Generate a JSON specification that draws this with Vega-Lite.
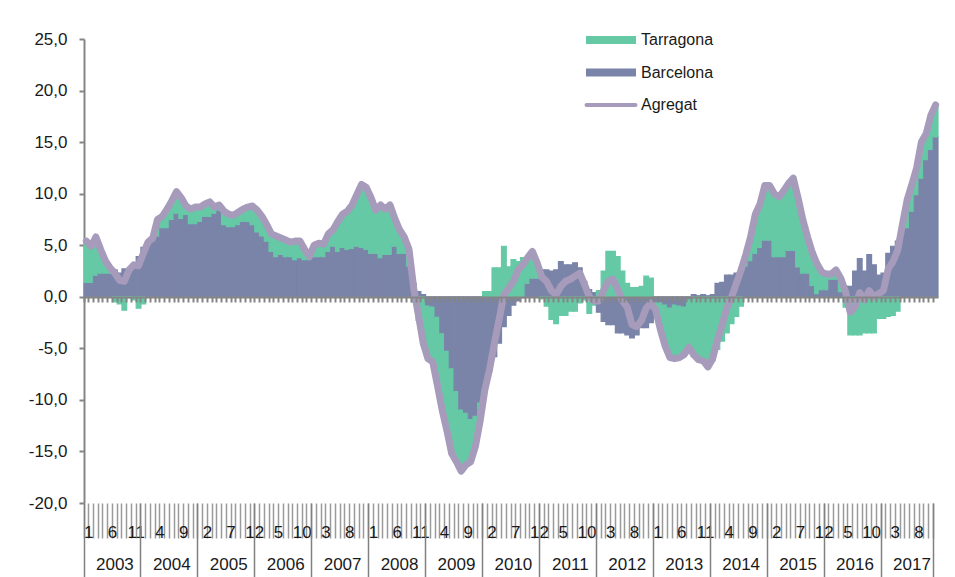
{
"$schema": "https://vega.github.io/schema/vega-lite/v6.json",
"width": 854,
"height": 464,
"autosize": {"type": "none"},
"padding": {"left": 84, "top": 39, "right": 17, "bottom": 74},
"background": "white",
"config": {"view": {"stroke": null}, "font": "Liberation Sans"},
"data": {"values": [
{"m":"2003-01","Barcelona":1.4,"Tarragona":4.0,"Agregat":5.4},
{"m":"2003-02","Barcelona":1.4,"Tarragona":3.5,"Agregat":4.9},
{"m":"2003-03","Barcelona":2.1,"Tarragona":3.7,"Agregat":5.8},
{"m":"2003-04","Barcelona":2.3,"Tarragona":2.3,"Agregat":4.6},
{"m":"2003-05","Barcelona":2.3,"Tarragona":1.2,"Agregat":3.5},
{"m":"2003-06","Barcelona":2.3,"Tarragona":0.5,"Agregat":2.8},
{"m":"2003-07","Barcelona":2.6,"Tarragona":-0.5,"Agregat":2.3},
{"m":"2003-08","Barcelona":2.3,"Tarragona":-0.7,"Agregat":1.6},
{"m":"2003-09","Barcelona":2.7,"Tarragona":-1.3,"Agregat":1.5},
{"m":"2003-10","Barcelona":2.7,"Tarragona":-0.1,"Agregat":2.6},
{"m":"2003-11","Barcelona":3.2,"Tarragona":-0.3,"Agregat":3.1},
{"m":"2003-12","Barcelona":3.9,"Tarragona":-1.1,"Agregat":3.0},
{"m":"2004-01","Barcelona":4.8,"Tarragona":-0.7,"Agregat":4.2},
{"m":"2004-02","Barcelona":5.0,"Tarragona":0.3,"Agregat":5.3},
{"m":"2004-03","Barcelona":5.4,"Tarragona":0.3,"Agregat":5.7},
{"m":"2004-04","Barcelona":5.9,"Tarragona":1.6,"Agregat":7.5},
{"m":"2004-05","Barcelona":6.7,"Tarragona":1.1,"Agregat":7.8},
{"m":"2004-06","Barcelona":6.7,"Tarragona":1.8,"Agregat":8.5},
{"m":"2004-07","Barcelona":7.5,"Tarragona":1.8,"Agregat":9.3},
{"m":"2004-08","Barcelona":8.1,"Tarragona":2.1,"Agregat":10.2},
{"m":"2004-09","Barcelona":7.6,"Tarragona":2.0,"Agregat":9.6},
{"m":"2004-10","Barcelona":8.0,"Tarragona":0.8,"Agregat":8.8},
{"m":"2004-11","Barcelona":7.1,"Tarragona":1.4,"Agregat":8.5},
{"m":"2004-12","Barcelona":7.1,"Tarragona":1.6,"Agregat":8.7},
{"m":"2005-01","Barcelona":7.3,"Tarragona":1.4,"Agregat":8.7},
{"m":"2005-02","Barcelona":7.8,"Tarragona":1.2,"Agregat":9.0},
{"m":"2005-03","Barcelona":7.8,"Tarragona":1.4,"Agregat":9.2},
{"m":"2005-04","Barcelona":8.1,"Tarragona":0.6,"Agregat":8.7},
{"m":"2005-05","Barcelona":8.4,"Tarragona":0.5,"Agregat":8.9},
{"m":"2005-06","Barcelona":7.0,"Tarragona":1.3,"Agregat":8.3},
{"m":"2005-07","Barcelona":6.8,"Tarragona":1.2,"Agregat":8.0},
{"m":"2005-08","Barcelona":6.8,"Tarragona":1.1,"Agregat":7.9},
{"m":"2005-09","Barcelona":7.0,"Tarragona":1.2,"Agregat":8.2},
{"m":"2005-10","Barcelona":7.3,"Tarragona":1.2,"Agregat":8.5},
{"m":"2005-11","Barcelona":7.3,"Tarragona":1.4,"Agregat":8.7},
{"m":"2005-12","Barcelona":7.0,"Tarragona":1.8,"Agregat":8.8},
{"m":"2006-01","Barcelona":6.3,"Tarragona":2.1,"Agregat":8.4},
{"m":"2006-02","Barcelona":5.9,"Tarragona":1.9,"Agregat":7.8},
{"m":"2006-03","Barcelona":5.4,"Tarragona":1.6,"Agregat":7.0},
{"m":"2006-04","Barcelona":4.4,"Tarragona":1.7,"Agregat":6.1},
{"m":"2006-05","Barcelona":3.9,"Tarragona":2.0,"Agregat":5.9},
{"m":"2006-06","Barcelona":4.1,"Tarragona":1.6,"Agregat":5.7},
{"m":"2006-07","Barcelona":3.9,"Tarragona":1.6,"Agregat":5.5},
{"m":"2006-08","Barcelona":3.9,"Tarragona":1.4,"Agregat":5.3},
{"m":"2006-09","Barcelona":3.6,"Tarragona":1.8,"Agregat":5.4},
{"m":"2006-10","Barcelona":3.8,"Tarragona":1.6,"Agregat":5.4},
{"m":"2006-11","Barcelona":3.6,"Tarragona":1.0,"Agregat":4.6},
{"m":"2006-12","Barcelona":3.6,"Tarragona":0.3,"Agregat":3.9},
{"m":"2007-01","Barcelona":3.9,"Tarragona":1.1,"Agregat":5.0},
{"m":"2007-02","Barcelona":3.9,"Tarragona":1.3,"Agregat":5.2},
{"m":"2007-03","Barcelona":3.9,"Tarragona":1.2,"Agregat":5.1},
{"m":"2007-04","Barcelona":4.4,"Tarragona":1.7,"Agregat":6.1},
{"m":"2007-05","Barcelona":4.9,"Tarragona":1.6,"Agregat":6.5},
{"m":"2007-06","Barcelona":4.4,"Tarragona":2.9,"Agregat":7.3},
{"m":"2007-07","Barcelona":4.8,"Tarragona":3.2,"Agregat":8.0},
{"m":"2007-08","Barcelona":4.6,"Tarragona":3.7,"Agregat":8.3},
{"m":"2007-09","Barcelona":4.7,"Tarragona":4.2,"Agregat":8.9},
{"m":"2007-10","Barcelona":4.9,"Tarragona":5.0,"Agregat":9.9},
{"m":"2007-11","Barcelona":4.8,"Tarragona":6.1,"Agregat":10.9},
{"m":"2007-12","Barcelona":4.6,"Tarragona":6.0,"Agregat":10.6},
{"m":"2008-01","Barcelona":4.2,"Tarragona":5.4,"Agregat":9.6},
{"m":"2008-02","Barcelona":4.2,"Tarragona":4.2,"Agregat":8.4},
{"m":"2008-03","Barcelona":3.8,"Tarragona":5.1,"Agregat":8.9},
{"m":"2008-04","Barcelona":4.1,"Tarragona":4.4,"Agregat":8.5},
{"m":"2008-05","Barcelona":4.1,"Tarragona":4.8,"Agregat":8.9},
{"m":"2008-06","Barcelona":4.9,"Tarragona":2.7,"Agregat":7.6},
{"m":"2008-07","Barcelona":4.2,"Tarragona":2.3,"Agregat":6.5},
{"m":"2008-08","Barcelona":4.2,"Tarragona":1.6,"Agregat":5.8},
{"m":"2008-09","Barcelona":3.0,"Tarragona":1.6,"Agregat":4.6},
{"m":"2008-10","Barcelona":1.3,"Tarragona":-0.5,"Agregat":0.8},
{"m":"2008-11","Barcelona":0.5,"Tarragona":-2.3,"Agregat":-1.8},
{"m":"2008-12","Barcelona":0.2,"Tarragona":-4.7,"Agregat":-4.5},
{"m":"2009-01","Barcelona":-0.9,"Tarragona":-5.1,"Agregat":-6.0},
{"m":"2009-02","Barcelona":-1.0,"Tarragona":-5.3,"Agregat":-6.3},
{"m":"2009-03","Barcelona":-2.0,"Tarragona":-6.6,"Agregat":-8.6},
{"m":"2009-04","Barcelona":-3.6,"Tarragona":-7.4,"Agregat":-11.0},
{"m":"2009-05","Barcelona":-5.3,"Tarragona":-7.7,"Agregat":-13.0},
{"m":"2009-06","Barcelona":-7.0,"Tarragona":-8.2,"Agregat":-15.2},
{"m":"2009-07","Barcelona":-9.2,"Tarragona":-6.8,"Agregat":-16.0},
{"m":"2009-08","Barcelona":-11.0,"Tarragona":-5.9,"Agregat":-16.9},
{"m":"2009-09","Barcelona":-11.3,"Tarragona":-5.0,"Agregat":-16.3},
{"m":"2009-10","Barcelona":-11.9,"Tarragona":-4.1,"Agregat":-16.0},
{"m":"2009-11","Barcelona":-11.6,"Tarragona":-2.9,"Agregat":-14.5},
{"m":"2009-12","Barcelona":-10.3,"Tarragona":-1.7,"Agregat":-12.0},
{"m":"2010-01","Barcelona":-8.7,"Tarragona":0.5,"Agregat":-9.0},
{"m":"2010-02","Barcelona":-7.2,"Tarragona":0.5,"Agregat":-7.0},
{"m":"2010-03","Barcelona":-5.8,"Tarragona":2.8,"Agregat":-4.5},
{"m":"2010-04","Barcelona":-4.5,"Tarragona":2.8,"Agregat":-2.2},
{"m":"2010-05","Barcelona":-2.9,"Tarragona":4.9,"Agregat":0.2},
{"m":"2010-06","Barcelona":-1.8,"Tarragona":2.9,"Agregat":0.8},
{"m":"2010-07","Barcelona":-0.8,"Tarragona":3.6,"Agregat":1.5},
{"m":"2010-08","Barcelona":-0.4,"Tarragona":3.4,"Agregat":2.6},
{"m":"2010-09","Barcelona":-0.1,"Tarragona":3.8,"Agregat":3.1},
{"m":"2010-10","Barcelona":1.3,"Tarragona":2.4,"Agregat":3.8},
{"m":"2010-11","Barcelona":1.8,"Tarragona":2.5,"Agregat":4.4},
{"m":"2010-12","Barcelona":1.8,"Tarragona":1.5,"Agregat":3.3},
{"m":"2011-01","Barcelona":2.6,"Tarragona":-0.2,"Agregat":1.9},
{"m":"2011-02","Barcelona":2.6,"Tarragona":-0.9,"Agregat":1.5},
{"m":"2011-03","Barcelona":2.5,"Tarragona":-2.2,"Agregat":0.6},
{"m":"2011-04","Barcelona":2.6,"Tarragona":-2.6,"Agregat":0.2},
{"m":"2011-05","Barcelona":3.4,"Tarragona":-1.8,"Agregat":1.0},
{"m":"2011-06","Barcelona":3.1,"Tarragona":-1.8,"Agregat":1.5},
{"m":"2011-07","Barcelona":3.1,"Tarragona":-1.4,"Agregat":1.7},
{"m":"2011-08","Barcelona":3.3,"Tarragona":-1.4,"Agregat":2.0},
{"m":"2011-09","Barcelona":2.8,"Tarragona":-0.6,"Agregat":2.3},
{"m":"2011-10","Barcelona":1.5,"Tarragona":-0.3,"Agregat":1.2},
{"m":"2011-11","Barcelona":0.7,"Tarragona":-1.6,"Agregat":0.0},
{"m":"2011-12","Barcelona":0.4,"Tarragona":-0.8,"Agregat":-0.4},
{"m":"2012-01","Barcelona":-1.5,"Tarragona":0.6,"Agregat":-0.4},
{"m":"2012-02","Barcelona":-2.4,"Tarragona":2.5,"Agregat":0.6},
{"m":"2012-03","Barcelona":-2.7,"Tarragona":4.4,"Agregat":1.5},
{"m":"2012-04","Barcelona":-2.7,"Tarragona":4.4,"Agregat":1.7},
{"m":"2012-05","Barcelona":-3.5,"Tarragona":3.9,"Agregat":0.7},
{"m":"2012-06","Barcelona":-3.5,"Tarragona":2.5,"Agregat":-0.4},
{"m":"2012-07","Barcelona":-3.7,"Tarragona":1.3,"Agregat":-1.0},
{"m":"2012-08","Barcelona":-4.0,"Tarragona":0.9,"Agregat":-2.7},
{"m":"2012-09","Barcelona":-3.7,"Tarragona":0.9,"Agregat":-2.9},
{"m":"2012-10","Barcelona":-3.0,"Tarragona":1.0,"Agregat":-2.3},
{"m":"2012-11","Barcelona":-3.0,"Tarragona":2.0,"Agregat":-1.1},
{"m":"2012-12","Barcelona":-2.5,"Tarragona":1.8,"Agregat":-0.6},
{"m":"2013-01","Barcelona":-0.6,"Tarragona":-0.7,"Agregat":-1.3},
{"m":"2013-02","Barcelona":-0.6,"Tarragona":-2.6,"Agregat":-3.2},
{"m":"2013-03","Barcelona":-0.8,"Tarragona":-4.0,"Agregat":-4.8},
{"m":"2013-04","Barcelona":-1.1,"Tarragona":-4.8,"Agregat":-5.9},
{"m":"2013-05","Barcelona":-0.8,"Tarragona":-5.2,"Agregat":-6.0},
{"m":"2013-06","Barcelona":-0.9,"Tarragona":-5.0,"Agregat":-5.9},
{"m":"2013-07","Barcelona":-1.0,"Tarragona":-4.6,"Agregat":-5.6},
{"m":"2013-08","Barcelona":-0.3,"Tarragona":-4.6,"Agregat":-4.9},
{"m":"2013-09","Barcelona":0.2,"Tarragona":-5.8,"Agregat":-5.6},
{"m":"2013-10","Barcelona":0.1,"Tarragona":-6.1,"Agregat":-6.1},
{"m":"2013-11","Barcelona":0.2,"Tarragona":-6.4,"Agregat":-6.2},
{"m":"2013-12","Barcelona":0.1,"Tarragona":-6.9,"Agregat":-6.8},
{"m":"2014-01","Barcelona":0.2,"Tarragona":-6.2,"Agregat":-6.0},
{"m":"2014-02","Barcelona":1.3,"Tarragona":-5.1,"Agregat":-4.2},
{"m":"2014-03","Barcelona":1.4,"Tarragona":-4.3,"Agregat":-2.7},
{"m":"2014-04","Barcelona":2.1,"Tarragona":-3.5,"Agregat":-1.1},
{"m":"2014-05","Barcelona":2.1,"Tarragona":-2.6,"Agregat":0.0},
{"m":"2014-06","Barcelona":2.3,"Tarragona":-1.9,"Agregat":1.3},
{"m":"2014-07","Barcelona":2.8,"Tarragona":-0.9,"Agregat":2.6},
{"m":"2014-08","Barcelona":3.0,"Tarragona":1.1,"Agregat":4.1},
{"m":"2014-09","Barcelona":3.5,"Tarragona":2.3,"Agregat":5.8},
{"m":"2014-10","Barcelona":4.2,"Tarragona":3.8,"Agregat":8.0},
{"m":"2014-11","Barcelona":4.8,"Tarragona":4.2,"Agregat":9.0},
{"m":"2014-12","Barcelona":5.5,"Tarragona":5.3,"Agregat":10.8},
{"m":"2015-01","Barcelona":5.5,"Tarragona":5.3,"Agregat":10.8},
{"m":"2015-02","Barcelona":3.9,"Tarragona":6.1,"Agregat":10.0},
{"m":"2015-03","Barcelona":3.9,"Tarragona":5.8,"Agregat":9.7},
{"m":"2015-04","Barcelona":3.9,"Tarragona":6.4,"Agregat":10.3},
{"m":"2015-05","Barcelona":4.5,"Tarragona":6.5,"Agregat":11.0},
{"m":"2015-06","Barcelona":4.5,"Tarragona":7.0,"Agregat":11.5},
{"m":"2015-07","Barcelona":2.9,"Tarragona":6.7,"Agregat":9.6},
{"m":"2015-08","Barcelona":2.3,"Tarragona":5.2,"Agregat":7.5},
{"m":"2015-09","Barcelona":2.3,"Tarragona":3.5,"Agregat":5.8},
{"m":"2015-10","Barcelona":1.1,"Tarragona":3.2,"Agregat":4.3},
{"m":"2015-11","Barcelona":0.3,"Tarragona":2.9,"Agregat":3.2},
{"m":"2015-12","Barcelona":0.7,"Tarragona":1.7,"Agregat":2.4},
{"m":"2016-01","Barcelona":0.7,"Tarragona":1.5,"Agregat":2.2},
{"m":"2016-02","Barcelona":1.7,"Tarragona":0.6,"Agregat":2.2},
{"m":"2016-03","Barcelona":1.7,"Tarragona":0.9,"Agregat":2.6},
{"m":"2016-04","Barcelona":0.5,"Tarragona":1.3,"Agregat":1.8},
{"m":"2016-05","Barcelona":1.0,"Tarragona":-1.0,"Agregat":0.5},
{"m":"2016-06","Barcelona":1.0,"Tarragona":-3.7,"Agregat":-1.5},
{"m":"2016-07","Barcelona":2.5,"Tarragona":-3.7,"Agregat":-1.0},
{"m":"2016-08","Barcelona":3.7,"Tarragona":-3.7,"Agregat":0.4},
{"m":"2016-09","Barcelona":2.5,"Tarragona":-3.5,"Agregat":-0.3},
{"m":"2016-10","Barcelona":4.1,"Tarragona":-3.5,"Agregat":0.6},
{"m":"2016-11","Barcelona":3.1,"Tarragona":-3.5,"Agregat":0.0},
{"m":"2016-12","Barcelona":2.1,"Tarragona":-2.1,"Agregat":0.3},
{"m":"2017-01","Barcelona":2.3,"Tarragona":-2.1,"Agregat":0.6},
{"m":"2017-02","Barcelona":4.2,"Tarragona":-1.9,"Agregat":2.7},
{"m":"2017-03","Barcelona":4.9,"Tarragona":-1.8,"Agregat":3.4},
{"m":"2017-04","Barcelona":5.4,"Tarragona":-1.4,"Agregat":4.5},
{"m":"2017-05","Barcelona":6.3,"Tarragona":0.7,"Agregat":7.0},
{"m":"2017-06","Barcelona":6.7,"Tarragona":2.7,"Agregat":9.4},
{"m":"2017-07","Barcelona":8.3,"Tarragona":2.6,"Agregat":10.9},
{"m":"2017-08","Barcelona":9.9,"Tarragona":2.6,"Agregat":12.5},
{"m":"2017-09","Barcelona":11.5,"Tarragona":3.5,"Agregat":15.0},
{"m":"2017-10","Barcelona":13.3,"Tarragona":2.5,"Agregat":15.8},
{"m":"2017-11","Barcelona":14.3,"Tarragona":3.3,"Agregat":17.6},
{"m":"2017-12","Barcelona":15.5,"Tarragona":3.1,"Agregat":18.6}
]},
"layer": [
{
"transform": [{"fold": ["Barcelona", "Tarragona"], "as": ["serie", "valor"]}],
"mark": {"type": "bar", "strokeWidth": 1.2},
"encoding": {
"x": {"field": "m", "type": "ordinal", "scale": {"type": "band", "paddingInner": 0, "paddingOuter": 0},
"axis": {"orient": "bottom", "offset": -206, "labels": false, "title": null, "domainColor": "#858585", "domainWidth": 2, "tickColor": "#858585", "tickWidth": 2, "tickSize": 5, "bandPosition": 0, "zindex": 1}},
"y": {"field": "valor", "type": "quantitative", "stack": "zero", "scale": {"domain": [-20, 25], "nice": false, "zero": false},
"axis": {"title": null, "values": [-20, -15, -10, -5, 0, 5, 10, 15, 20, 25], "labelExpr": "replace(replace(format(datum.value, '.1f'), '.', ','), '\u2212', '-')", "grid": false, "domainColor": "#858585", "domainWidth": 2, "tickColor": "#858585", "tickWidth": 2, "tickSize": 5, "labelPadding": 12, "labelFontSize": 17, "labelColor": "#1a1a1a", "labelFont": "Liberation Sans"}},
"color": {"field": "serie", "type": "nominal", "scale": {"domain": ["Tarragona", "Barcelona", "Agregat"], "range": ["#66c9a6", "#7a84a8", "#a69bbb"]},
"legend": {"orient": "none", "legendX": 519, "legendY": -7, "title": null, "padding": 0, "symbolSize": 400, "rowPadding": 16.5, "labelFontSize": 16, "labelColor": "#1a1a1a", "labelOffset": 22, "symbolType": "M-2.5,-0.4H2.5V0.4H-2.5Z", "symbolStrokeWidth": 0,
"encode": {"symbols": {"update": {
"shape": {"signal": "datum.value === 'Agregat' ? 'M-2.45,0H2.45' : 'M-2.5,-0.4H2.5V0.4H-2.5Z'"},
"fill": {"signal": "datum.value === 'Agregat' ? 'transparent' : scale('color', datum.value)"},
"stroke": {"signal": "scale('color', datum.value)"},
"strokeWidth": {"signal": "datum.value === 'Agregat' ? 4 : 0"},
"strokeCap": {"value": "round"},
"opacity": {"value": 1}}}}}},
"stroke": {"field": "serie", "type": "nominal", "scale": {"domain": ["Tarragona", "Barcelona", "Agregat"], "range": ["#66c9a6", "#7a84a8", "#a69bbb"]}, "legend": null},
"order": {"field": "serie", "sort": "ascending"}
}
},
{
"mark": {"type": "line", "strokeWidth": 7, "strokeJoin": "round", "strokeCap": "round"},
"encoding": {
"x": {"field": "m", "type": "ordinal", "scale": {"type": "band", "paddingInner": 0, "paddingOuter": 0},
"axis": {"orient": "bottom", "title": null, "domain": false, "bandPosition": 0, "tickSize": 35, "tickColor": "#9a9a9a", "tickWidth": 1.5, "labelExpr": "((toNumber(slice(datum.value, 0, 4)) - 2003) * 12 + toNumber(slice(datum.value, 5, 7)) - 1) % 5 === 0 ? '' + toNumber(slice(datum.value, 5, 7)) : ''", "labelFontSize": 17, "labelPadding": -14, "labelBaseline": "top", "labelAngle": 0, "labelOverlap": false, "labelFlush": false, "labelOffset": 2.4, "labelColor": "#1a1a1a"}},
"y": {"field": "Agregat", "type": "quantitative"},
"color": {"datum": "Agregat"}
}
},
{
"mark": {"type": "bar", "opacity": 0},
"encoding": {
"x": {"field": "m", "type": "ordinal", "scale": {"type": "band", "paddingInner": 0, "paddingOuter": 0},
"axis": {"orient": "bottom", "title": null, "domain": false, "bandPosition": 0, "values": ["2003-01","2004-01","2005-01","2006-01","2007-01","2008-01","2009-01","2010-01","2011-01","2012-01","2013-01","2014-01","2015-01","2016-01","2017-01","2017-12"], "tickSize": 74, "tickColor": "#808080", "tickWidth": 1.5, "labelExpr": "datum.value === '2017-12' ? '' : slice(datum.value, 0, 4)", "labelFontSize": 17, "labelPadding": -21, "labelBaseline": "top", "labelAngle": 0, "labelOverlap": false, "labelFlush": false, "labelOffset": 28.5, "labelColor": "#1a1a1a"}}
}
}
],
"resolve": {"scale": {"x": "independent"}}
}
